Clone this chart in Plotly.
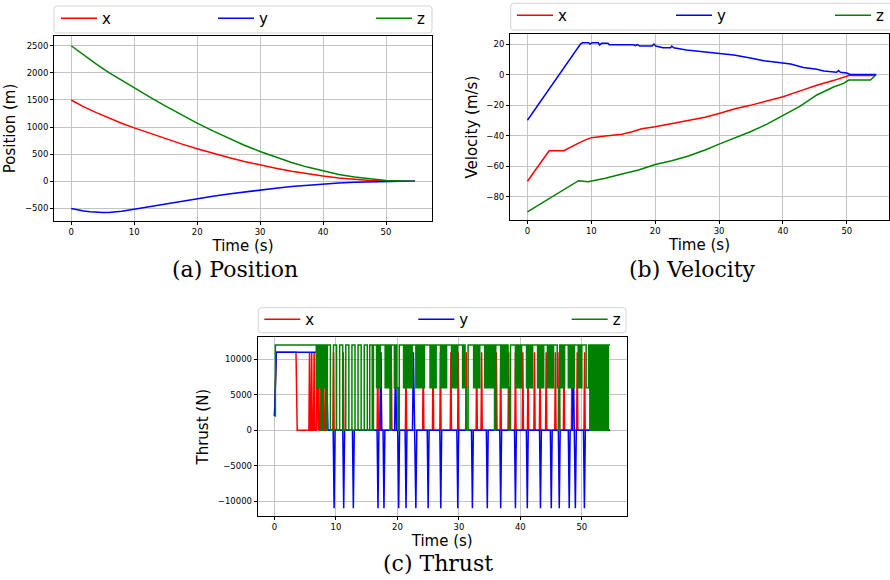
import plotly.graph_objects as go

W, H = 890, 580

# ---------------- (a) Position data ----------------
POS_T = [0, 2, 4, 6, 8, 10, 12.5, 15, 17.5, 20, 22.5, 25, 27.5, 30, 32.5, 35, 37.5, 40, 42.5, 45, 47.5, 50, 52.5, 54.6]
POS_X = [1500, 1372, 1266, 1166, 1072, 986, 883, 784, 690, 602, 518, 440, 367, 300, 240, 186, 138, 97, 63, 36, 17, 5, 1, 0]
POS_Z = [2500, 2325, 2160, 2005, 1862, 1725, 1553, 1388, 1228, 1073, 930, 793, 666, 550, 444, 347, 262, 188, 127, 78, 40, 15, 4, 0]
POS_Y_T = [0, 1, 2, 3, 4, 5, 6, 7, 8, 9, 10, 12.5, 15, 17.5, 20, 22.5, 25, 27.5, 30, 32.5, 35, 37.5, 40, 42.5, 45, 47.5, 50, 52.5, 54.6]
POS_Y = [-500, -527, -548, -563, -572, -576, -574, -566, -552, -533, -513, -464, -415, -367, -318, -275, -235, -195, -158, -126, -98, -72, -50, -33, -19, -9, -3, -1, 0]

# ---------------- (b) Velocity data ----------------
VX_T = [0, 3.4, 5.7, 7, 8, 9, 10, 12.2, 14.8, 16.4, 17.9, 20, 22.6, 25.2, 27.8, 30, 32.5, 34.9, 37.5, 40, 42.7, 45.3, 48, 49.5, 50.3, 54, 54.6]
VX = [-70, -50, -50, -47, -45, -43, -41.4, -40.3, -39.2, -37.5, -35.5, -34.2, -32, -30.3, -28, -25.5, -22.5, -20.2, -17.5, -14.5, -10.7, -7, -3.8, -2, -0.6, -0.6, -0.3]
VY_T = [0, 8.3, 8.6, 9.6, 9.8, 10.1, 11.1, 11.3, 11.6, 12.6, 12.8, 16.6, 16.9, 17.2, 17.6, 19.5, 19.8, 20.1, 21.2, 22.4, 22.6, 22.9, 24.9, 27.8, 30, 32.3, 34.9, 37, 39, 41.2, 43.2, 45.3, 46.4, 48.4, 48.7, 49, 50, 50.5, 54.6]
VY = [-30, 20, 20.8, 20.8, 20, 20.8, 20.8, 19.3, 20.6, 20.6, 19.5, 19.5, 18.9, 19.7, 18.7, 18.7, 20, 18.7, 17.6, 17.6, 18.7, 17.6, 16.1, 14.8, 13.4, 12.8, 10.8, 9.1, 8, 6.9, 4.6, 3.5, 2.4, 1.5, 2.6, 1.5, 1, 0, 0]
VZ_T = [0, 8, 9.5, 12.2, 14.8, 17.4, 20, 22.6, 25.2, 27.8, 30, 32.5, 34.9, 37.5, 40, 42.7, 45.3, 48, 49.5, 50.3, 53.7, 54.5]
VZ = [-90, -69.6, -70.3, -68, -65.2, -62.6, -59, -56.5, -53.4, -49.5, -45.6, -41.5, -37.5, -32.5, -26.6, -20.7, -13.4, -8, -5.8, -3.6, -3.6, -0.5]

# ---------------- (c) Thrust data ----------------
TX_BASE_T = [0, 0.3, 3.5, 3.7, 54.6]
TX_BASE = [2000, 11000, 11000, 0, 0]
TX_SPIKES = [5.7, 6.05, 6.45, 6.9, 7.2, 7.6, 8.0, 8.4, 9.6, 11.2, 16.8, 17.3, 19.0, 21.4, 24.2, 25.8,
             27.0, 28.7, 29.9, 31.2, 32.9, 33.7, 36.1, 36.8, 38.1, 39.2, 40.4, 41.25, 42.3, 43.2, 44.2,
             45.7, 46.3, 47.1, 48.4, 49.25, 50.45]
TX_SPIKE_LEVEL = 11000

TY_BASE_T = [0, 0.3, 8.4, 8.7, 54.6]
TY_BASE = [2000, 11000, 11000, 0, 0]
TY_DOWN = [9.7, 11.26, 12.83, 16.84, 17.81, 20.2, 21.4, 23.0, 25.0, 27.05, 29.82, 32.2, 34.62, 36.8,
           39.2, 41.13, 43.27, 45.03, 46.33, 47.95, 48.95, 50.42]
TY_UP = [17.3, 19.7, 22.6, 48.6]
TY_LEVEL = 11000

TZ_T = [0, 0.15, 6.8, 7.0, 7.2, 7.4, 7.6, 7.8, 8.0, 8.2, 8.4, 8.6, 9.1, 9.6, 10.1, 10.6, 11.1, 11.6,
        12.1, 12.6, 13.1, 13.6, 14.1, 14.6, 15.1, 15.5, 15.9, 16.1, 16.6, 16.8, 17.0, 17.2, 18.0, 18.2,
        18.4, 18.6, 18.8, 19.0, 19.5, 19.7, 19.9, 20.1, 20.3, 21.0, 21.2, 21.4, 21.6, 21.8, 22.0, 22.2,
        22.4, 23.0, 23.2, 23.4, 23.6, 23.8, 24.0, 24.2, 24.4, 25.3, 25.5, 25.7, 25.9, 26.1, 26.3, 27.0,
        27.2, 27.4, 27.6, 27.8, 28.0, 28.8, 29.0, 29.2, 29.4, 29.6, 29.8, 30.6, 30.8, 31.0, 31.2, 31.5,
        32.4, 32.6, 32.8, 33.0, 33.2, 33.4, 34.2, 34.4, 34.6, 34.8, 35.0, 35.2, 35.4, 35.6, 35.8, 36.0,
        36.8, 37.0, 37.2, 37.4, 37.6, 37.8, 38.0, 38.2, 38.4, 39.2, 39.4, 39.6, 39.8, 40.0, 40.2, 41.0,
        41.2, 41.4, 41.6, 41.8, 42.0, 42.8, 43.0, 43.2, 43.4, 43.6, 43.8, 44.4, 44.6, 44.8, 45.0, 45.2,
        45.4, 46.0, 46.2, 46.4, 46.6, 46.8, 47.0, 47.2, 47.8, 48.0, 48.2, 48.4, 48.6, 48.8, 49.4, 49.6,
        49.8, 50.0, 50.7, 51.1, 51.3, 51.5, 51.7, 51.9, 52.1, 52.3, 52.5, 52.7, 52.9, 53.1, 53.3, 53.5,
        53.7, 53.9, 54.1, 54.3, 54.6]
TZ = [2000, 12000, 6000, 12000, 6000, 12000, 0, 12000, 6000, 12000, 0, 12000, 0, 12000, 0, 12000, 0, 12000,
      0, 12000, 0, 12000, 0, 12000, 0, 12000, 0, 12000, 6000, 12000, 6000, 12000, 6000, 12000,
      6000, 12000, 0, 12000, 6000, 12000, 6000, 0, 12000, 6000, 12000, 6000, 12000, 6000, 12000, 6000,
      12000, 6000, 12000, 6000, 12000, 6000, 12000, 6000, 12000, 6000, 12000, 6000, 12000, 6000, 12000, 6000,
      12000, 6000, 12000, 6000, 12000, 6000, 12000, 6000, 12000, 6000, 12000, 6000, 12000, 6000, 0, 12000,
      6000, 12000, 6000, 12000, 6000, 12000, 6000, 12000, 6000, 12000, 6000, 12000, 6000, 12000, 0, 12000,
      6000, 12000, 6000, 12000, 6000, 12000, 6000, 0, 12000, 6000, 12000, 6000, 12000, 6000, 12000, 6000,
      12000, 6000, 12000, 6000, 12000, 6000, 12000, 6000, 12000, 6000, 12000, 6000, 12000, 6000, 12000, 6000,
      12000, 6000, 0, 12000, 6000, 12000, 6000, 12000, 6000, 12000, 6000, 12000, 6000, 12000, 6000, 12000,
      6000, 12000, 6000, 12000, 0, 12000, 0, 12000, 0, 12000, 0, 12000, 0, 12000, 0, 12000,
      0, 12000, 0, 12000, 12000]

COLORS = {"x": "#ff0000", "y": "#0000ff", "z": "#008000"}

X_TICKS = [0, 10, 20, 30, 40, 50]
POS_TICKS = [-500, 0, 500, 1000, 1500, 2000, 2500]
VEL_TICKS = [-80, -60, -40, -20, 0, 20]
THR_TICKS = [-10000, -5000, 0, 5000, 10000]


def with_spikes(base_t, base_v, spikes):
    pts = list(zip(base_t, base_v))
    for t, lvl, half in spikes:
        pts += [(t - half, 0), (t, lvl), (t + half, 0)]
    pts.sort(key=lambda p: p[0])
    return [p[0] for p in pts], [p[1] for p in pts]


tx_t, tx_v = with_spikes(TX_BASE_T, TX_BASE, [(s, TX_SPIKE_LEVEL, 0.1) for s in TX_SPIKES])
ty_t, ty_v = with_spikes(TY_BASE_T, TY_BASE,
                         [(s, -TY_LEVEL, 0.15) for s in TY_DOWN] + [(s, TY_LEVEL, 0.15) for s in TY_UP])

# legend item placement (line start x, line y) per panel, one legend per entry
LEG_POS = {
    "a": [(60, 18.5), (217, 18.5), (375, 18.5)],
    "b": [(516, 15.5), (675, 15.5), (834, 15.5)],
    "c": [(263.3, 319.5), (417.3, 319.5), (570.7, 319.5)],
}
LEG_BOX = {"a": (54, 6, 432, 33), "b": (510.7, 3.3, 895, 30), "c": (258.3, 307.7, 626, 332.7)}

fig = go.Figure()
LW = 1.5

panel_data = {
    "a": [("x", POS_T, POS_X, "linear"), ("y", POS_Y_T, POS_Y, "linear"), ("z", POS_T, POS_Z, "linear")],
    "b": [("x", VX_T, VX, "linear"), ("y", VY_T, VY, "linear"), ("z", VZ_T, VZ, "linear")],
    "c": [("x", tx_t, tx_v, "linear"), ("y", ty_t, ty_v, "linear"), ("z", TZ_T, TZ, "hv")],
}
axes = {"a": ("x", "y"), "b": ("x2", "y2"), "c": ("x3", "y3")}

FONT = "DejaVu Sans"
legend_layouts = {}
li = 0
for p in ["a", "b", "c"]:
    for k, (name, t, v, shape) in enumerate(panel_data[p]):
        li += 1
        lname = "legend" if li == 1 else "legend%d" % li
        fig.add_trace(go.Scatter(x=t, y=v, mode="lines", name=name, legend=lname,
                                 line=dict(color=COLORS[name], width=LW, shape=shape),
                                 xaxis=axes[p][0], yaxis=axes[p][1]))
        lx, ly = LEG_POS[p][k]
        legend_layouts[lname] = dict(x=(lx - 4) / W, y=1 - ly / H, xanchor="left", yanchor="middle",
                                     borderwidth=0, bgcolor="rgba(0,0,0,0)",
                                     font=dict(family=FONT, size=15, color="black"), itemwidth=36)

GRID = "#c4c4c4"


def xax(domain, anchor, rng):
    return dict(domain=domain, anchor=anchor, range=rng, tickvals=X_TICKS,
                showgrid=True, gridcolor=GRID, gridwidth=1.2, zeroline=False,
                showline=True, linecolor="black", linewidth=1, mirror=True,
                ticks="outside", ticklen=3, tickcolor="black",
                tickfont=dict(family=FONT, size=8.5, color="black"),
                title=dict(text="Time (s)", font=dict(family=FONT, size=15, color="black"), standoff=4))


def yax(domain, anchor, rng, ticks, title):
    return dict(domain=domain, anchor=anchor, range=rng, tickvals=ticks, tickformat="d",
                showgrid=True, gridcolor=GRID, gridwidth=1.2, zeroline=False,
                showline=True, linecolor="black", linewidth=1, mirror=True,
                ticks="outside", ticklen=3, tickcolor="black",
                tickfont=dict(family=FONT, size=8.5, color="black"),
                title=dict(text=title, font=dict(family=FONT, size=15, color="black"), standoff=5))


shapes = []
for p, (x0, y0, x1, y1) in LEG_BOX.items():
    r = 3
    path = ("M {a},{b} L {c},{b} Q {x1},{y0} {x1},{d} L {x1},{e} Q {x1},{y1} {c},{y1} "
            "L {a},{y1} Q {x0},{y1} {x0},{e} L {x0},{d} Q {x0},{y0} {a},{b} Z").format(
        a=(x0 + r) / W, b=1 - y0 / H, c=(x1 - r) / W, d=1 - (y0 + r) / H, e=1 - (y1 - r) / H,
        x0=x0 / W, x1=x1 / W, y0=1 - y0 / H, y1=1 - y1 / H)
    shapes.append(dict(type="path", path=path, xref="paper", yref="paper",
                       line=dict(color="#d3d3d3", width=1), fillcolor="white", layer="above"))

fig.update_layout(
    width=W, height=H, margin=dict(l=0, r=0, t=0, b=0, autoexpand=False),
    paper_bgcolor="white", plot_bgcolor="white",
    xaxis=xax([54 / W, 432 / W], "y", [-2.73, 57.3]),
    yaxis=yax([1 - 221 / H, 1 - 36 / H], "x", [-732, 2680], POS_TICKS, "Position (m)"),
    xaxis2=xax([510 / W, 889 / W], "y2", [-2.73, 56.6]),
    yaxis2=yax([1 - 220 / H, 1 - 34.3 / H], "x2", [-95.4, 26.4], VEL_TICKS, "Velocity (m/s)"),
    xaxis3=xax([257.7 / W, 626.7 / W], "y3", [-2.73, 57.3]),
    yaxis3=yax([1 - 516 / H, 1 - 337.3 / H], "x3", [-12100, 13100], THR_TICKS, "Thrust (N)"),
    showlegend=True,
    shapes=shapes,
    **legend_layouts,
)

CAP_FONT = dict(family="DejaVu Serif", size=22, color="black")
for text, cx, cy in [("(a) Position", 235, 269), ("(b) Velocity", 692, 269), ("(c) Thrust", 438, 563)]:
    fig.add_annotation(text=text, x=cx / W, y=1 - cy / H, xref="paper", yref="paper",
                       showarrow=False, font=CAP_FONT, xanchor="center", yanchor="middle")

fig.write_html("out.html", config={"displayModeBar": False},
               post_script="document.body.style.margin='0';document.body.style.overflow='hidden';")
